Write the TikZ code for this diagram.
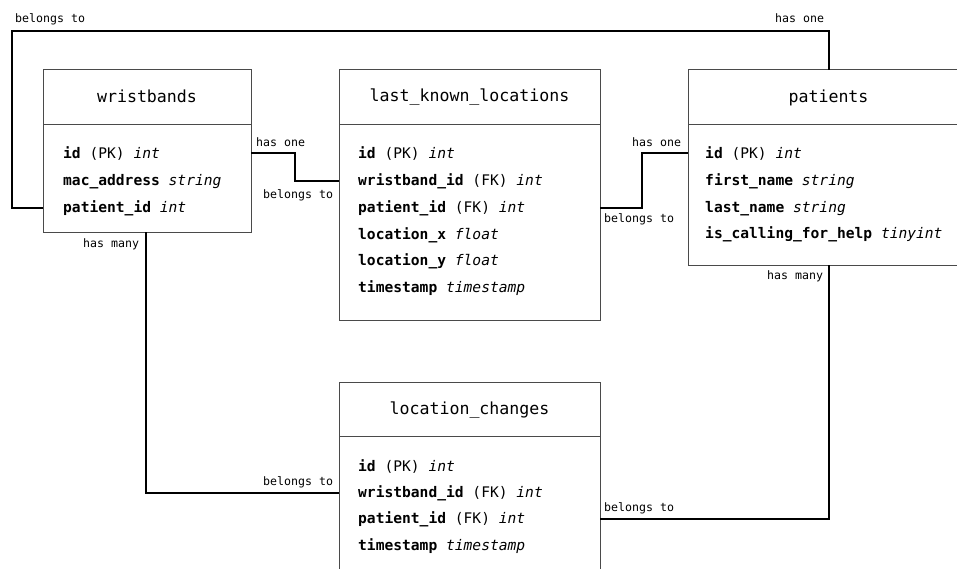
\documentclass[tikz,border=0pt]{standalone}
\usepackage{fontspec}
\setmonofont{DejaVu Sans Mono}
\definecolor{boxgray}{HTML}{4A4A4A}
\begin{document}
\begin{tikzpicture}[x=1pt,y=-1pt,
  tablebox/.style={draw=boxgray, line width=1pt, inner sep=0pt, outer sep=0pt},
  divider/.style={draw=boxgray, line width=1pt},
  tabletitle/.style={font=\ttfamily\fontsize{16.6}{20}\selectfont, anchor=mid, inner sep=0pt, yshift=-3pt},
  field/.style={font=\ttfamily\fontsize{14.6}{18}\selectfont, anchor=mid west, inner sep=0pt, yshift=-3pt},
  rel/.style={line width=2pt, black},
  relname/.style={font=\ttfamily\fontsize{11.6}{14}\selectfont, anchor=mid west, inner sep=0pt, yshift=-2.5pt}]
\useasboundingbox (0,0) rectangle (957,569);
\clip (0,0) rectangle (957,569);

% tables
\node[tablebox, minimum width=208, minimum height=162] (wb)  at (147,151)   {};
\node[tablebox, minimum width=261, minimum height=250] (lkl) at (469.5,195) {};
\node[tablebox, minimum width=281, minimum height=195] (pt)  at (828.5,167.5) {};
\node[tablebox, minimum width=261, minimum height=228] (lc)  at (469.5,496) {};

% header separators
\draw[divider] (wb.west |- 0,125) -- (wb.east |- 0,125);
\draw[divider] (lkl.west |- 0,125) -- (lkl.east |- 0,125);
\draw[divider] (pt.west |- 0,125) -- (pt.east |- 0,125);
\draw[divider] (lc.west |- 0,436) -- (lc.east |- 0,436);

% titles
\node[tabletitle] (wbt)  at (147,97)    {wristbands};
\node[tabletitle] (lklt) at (469.5,96)  {last\_known\_locations};
\node[tabletitle] (ptt)  at (828.5,97)  {patients};
\node[tabletitle] (lct)  at (469.5,409) {location\_changes};

% wristbands fields
\node[field] (wb1) at (63,153) {\textbf{id} (PK) \textit{int}};
\node[field] (wb2) at (63,180) {\textbf{mac\_address} \textit{string}};
\node[field] (wb3) at (63,207) {\textbf{patient\_id} \textit{int}};

% last_known_locations fields
\node[field] (lkl1) at (358,153) {\textbf{id} (PK) \textit{int}};
\node[field] (lkl2) at (358,180) {\textbf{wristband\_id} (FK) \textit{int}};
\node[field] (lkl3) at (358,207) {\textbf{patient\_id} (FK) \textit{int}};
\node[field] (lkl4) at (358,234) {\textbf{location\_x} \textit{float}};
\node[field] (lkl5) at (358,260) {\textbf{location\_y} \textit{float}};
\node[field] (lkl6) at (358,287) {\textbf{timestamp} \textit{timestamp}};

% patients fields
\node[field] (pt1) at (705,153) {\textbf{id} (PK) \textit{int}};
\node[field] (pt2) at (705,180) {\textbf{first\_name} \textit{string}};
\node[field] (pt3) at (705,207) {\textbf{last\_name} \textit{string}};
\node[field] (pt4) at (705,233) {\textbf{is\_calling\_for\_help} \textit{tinyint}};

% location_changes fields
\node[field] (lc1) at (358,466) {\textbf{id} (PK) \textit{int}};
\node[field] (lc2) at (358,492) {\textbf{wristband\_id} (FK) \textit{int}};
\node[field] (lc3) at (358,518) {\textbf{patient\_id} (FK) \textit{int}};
\node[field] (lc4) at (358,545) {\textbf{timestamp} \textit{timestamp}};

% bend points of the relations
\coordinate (top)  at (0,31);
\coordinate (left) at (12,0);
\coordinate (j1)   at (295,0);
\coordinate (j2)   at (642,0);
\coordinate (j3)   at (146,0);

% relations
\draw[rel] (wb.west |- wb3) -| (left |- top) -| (pt.north);
\draw[rel] (wb.east |- wb1) -| (j1 |- lkl2) -- (lkl.west |- lkl2);
\draw[rel] (lkl.east |- lkl3) -| (j2 |- pt1) -- (pt.west |- pt1);
\draw[rel] (j3 |- wb.south) |- (lc.west |- lc2);
\draw[rel] (pt.south) |- (lc.east |- lc3);

% relation labels
\node[relname] (l1)  at (15,18)  {belongs to};
\node[relname] (l2)  at (775,18) {has one};
\node[relname] (l3)  at (256,142) {has one};
\node[relname] (l4)  at (263,194) {belongs to};
\node[relname] (l5)  at (83,243) {has many};
\node[relname] (l6)  at (632,142) {has one};
\node[relname] (l7)  at (604,218) {belongs to};
\node[relname] (l8)  at (767,275) {has many};
\node[relname] (l9)  at (263,481) {belongs to};
\node[relname] (l10) at (604,507) {belongs to};
\end{tikzpicture}
\end{document}
